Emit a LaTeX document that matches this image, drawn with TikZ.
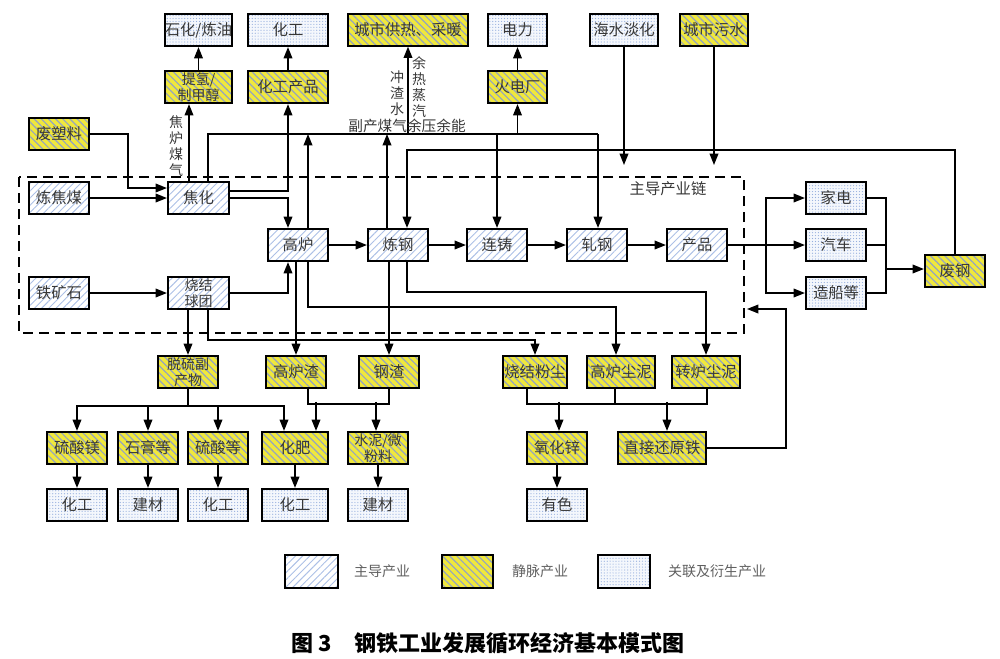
\documentclass[tikz,border=0pt]{standalone}
\usepackage{fontspec}
\setmainfont{Noto Sans CJK SC}
\usetikzlibrary{arrows.meta,calc,patterns.meta}

\definecolor{zyellow}{RGB}{240,232,60}
\definecolor{hatchblue}{RGB}{172,192,230}
\definecolor{hatchgrey}{RGB}{150,165,190}
\definecolor{dotblue}{RGB}{150,175,222}
\definecolor{txtgrey}{RGB}{55,55,55}

\tikzset{
  box/.style={draw, line width=1.6pt, minimum width=45pt, minimum height=24pt, inner sep=0pt,
    align=center, text=txtgrey, font=\fontsize{11.5}{13}\selectfont},
  zhudao/.style={box, pattern={Lines[angle=45,distance=3.8pt,line width=0.7pt]}, pattern color=hatchblue},
  jingmai/.style={box, preaction={fill=zyellow}, pattern={Lines[angle=-45,distance=3.8pt,line width=0.9pt]}, pattern color=hatchgrey},
  guanlian/.style={box, preaction={fill=dotblue!10}, pattern={Dots[radius=0.45pt,distance=2.2pt]}, pattern color=dotblue},
  bw/.style={minimum width=#1*0.75pt},
  twoline/.style={font=\fontsize{10.5}{12.3}\selectfont},
  arr/.style={-{Triangle[length=8.5pt,width=6.5pt]}, line width=1.1pt},
  ln/.style={line width=1.1pt},
  lbl/.style={font=\fontsize{10.5}{12}\selectfont, text=txtgrey, align=center, inner sep=0pt},
  dashbox/.style={line width=1.3pt, dash pattern=on 7.5pt off 4.5pt},
}

\begin{document}
\begin{tikzpicture}[x=0.75pt,y=0.75pt,yscale=-1,xscale=1]
\useasboundingbox (0,0) rectangle (1000,658);

% Top row
\node[guanlian,bw=67] (shlian) at (198.5,30) {石化/炼油};
\node[guanlian,bw=80] (hgtop) at (288,30) {化工};
\node[jingmai,bw=120] (gongre) at (408,30) {城市供热、采暖};
\node[guanlian,bw=59] (dianli) at (517.5,30) {电力};
\node[guanlian,bw=68] (haishui) at (624,30) {海水淡化};
\node[jingmai,bw=68] (wushui) at (714,30) {城市污水};

% Second row
\node[jingmai,bw=67,twoline] (tiqing) at (198.5,87) {提氢/\\制甲醇};
\node[jingmai,bw=80] (hgcp) at (288,87) {化工产品};
\node[jingmai,bw=59] (huodian) at (517.5,87) {火电厂};
\node[jingmai] (feisu) at (59,134) {废塑料};

% Main chain
\draw[dashbox] (19,177) rectangle (744,333);
\node[lbl,font=\fontsize{11.5}{13}\selectfont] (zdlabel) at (668,189) {主导产业链};
\node[zhudao] (lianjiao) at (59,198) {炼焦煤};
\node[zhudao,bw=61] (jiaohua) at (198.5,198) {焦化};
\node[zhudao] (tiekuang) at (59,293) {铁矿石};
\node[zhudao,bw=61,twoline] (shaojie) at (198.5,293) {烧结\\球团};
\node[zhudao] (gaolu) at (298,245) {高炉};
\node[zhudao] (liangang) at (398,245) {炼钢};
\node[zhudao] (lianzhu) at (497,245) {连铸};
\node[zhudao] (zhagang) at (597,245) {轧钢};
\node[zhudao] (chanpin) at (697,245) {产品};

% Products and scrap
\node[guanlian] (jiadian) at (836,198) {家电};
\node[guanlian] (qiche) at (836,245) {汽车};
\node[guanlian] (zaochuan) at (836,293) {造船等};
\node[jingmai] (feigang) at (955,271) {废钢};

% Bottom rows
\node[jingmai,twoline] (tuoliu) at (188,372) {脱硫副\\产物};
\node[jingmai] (gaoluzha) at (296,372) {高炉渣};
\node[jingmai] (gangzha) at (389,372) {钢渣};
\node[jingmai,bw=64] (fenchen) at (535,372) {烧结粉尘};
\node[jingmai,bw=68] (glcn) at (621,372) {高炉尘泥};
\node[jingmai,bw=68] (zlcn) at (706,372) {转炉尘泥};

\node[jingmai] (liusuanmei) at (77,448) {硫酸镁};
\node[jingmai] (shigao) at (148,448) {石膏等};
\node[jingmai] (liusuan) at (218,448) {硫酸等};
\node[jingmai,bw=66] (huafei) at (295,448) {化肥};
\node[jingmai,twoline] (shuini) at (378,448) {水泥/微\\粉料};
\node[jingmai] (yanghuaxin) at (557,448) {氧化锌};
\node[jingmai,bw=88] (zhijie) at (662,448) {直接还原铁};

\node[guanlian] (hg1) at (77,505) {化工};
\node[guanlian] (jc1) at (148,505) {建材};
\node[guanlian] (hg2) at (218,505) {化工};
\node[guanlian,bw=66] (hg3) at (295,505) {化工};
\node[guanlian] (jc2) at (378,505) {建材};
\node[guanlian] (youse) at (557,505) {有色};

% Coking inputs and outputs
\draw[arr] (feisu.east) -| ($(jiaohua.west)+(-39,-10)$) -- ($(jiaohua.west)+(0,-10)$);
\draw[arr] (lianjiao.east) -- (jiaohua.west);
\draw[arr] ($(jiaohua.north)+(-9.5,0)$) -- ($(tiqing.south)+(-9.5,0)$);
\node[lbl] (jlmq) at (176,146) {焦\\炉\\煤\\气};
\draw[arr] (tiqing.north) -- (shlian.south);
\draw[arr] (hgcp.north) -- (hgtop.south);
\draw[arr] (huodian.north) -- (dianli.south);
\draw[arr] ($(jiaohua.east)+(0,-7)$) -| (hgcp.south);
\draw[arr] (jiaohua.east) -| ($(gaolu.north)+(-10,0)$);
\draw[arr] (tiekuang.east) -- (shaojie.west);
\draw[arr] (shaojie.east) -| ($(gaolu.south)+(-10,0)$);

% Main chain arrows
\draw[arr] (gaolu) -- (liangang);
\draw[arr] (liangang) -- (lianzhu);
\draw[arr] (lianzhu) -- (zhagang);
\draw[arr] (zhagang) -- (chanpin);

% By-product gas bus
\coordinate (busA) at (208,134);
\coordinate (busB) at (598,134);
\draw[ln] (jiaohua.north -| busA) -- (busA) -- (busB);
\draw[arr] (busB) -- (zhagang.north -| busB);
\draw[arr] (lianzhu.north |- busA) -- (lianzhu.north);
\draw[arr] (gongre.south |- busA) -- (gongre.south);
\draw[arr] (huodian.south |- busA) -- (huodian.south);
\coordinate (gl1) at ($(gaolu.north)+(10,0)$);
\draw[arr] (gl1) -- (gl1 |- busA);
\coordinate (lg1) at ($(liangang.north)+(-11,0)$);
\draw[arr] (lg1) -- (lg1 |- busA);
\node[lbl] (czs) at (397,93) {冲\\渣\\水};
\node[lbl] (yrzq) at (419,87) {余\\热\\蒸\\汽};
\node[lbl,font=\fontsize{11}{12}\selectfont] (fcmq) at (407,126) {副产煤气余压余能};

% Water and scrap return
\coordinate (busC) at (407,150);
\draw[arr] (feigang.north) |- (busC) -- (liangang.north -| busC);
\coordinate (hsEnd) at (624,165);
\coordinate (wsEnd) at (714,165);
\draw[arr] (haishui.south) -- (hsEnd);
\draw[arr] (wushui.south) -- (wsEnd);

% Products to users
\coordinate (fork) at (766,245);
\draw[ln] (chanpin.east) -- (fork);
\draw[arr] (fork) -- (qiche.west);
\draw[arr] (fork) |- (jiadian.west);
\draw[arr] (fork) |- (zaochuan.west);
\coordinate (merge) at (886,269);
\draw[ln] (jiadian.east) -| (merge);
\draw[ln] (zaochuan.east) -| (merge);
\draw[ln] (qiche.east) -- (qiche.east -| merge);
\draw[arr] (merge) -- (merge -| feigang.west);

% Waste streams down
\draw[arr] (tuoliu.north |- shaojie.south) -- (tuoliu.north);
\coordinate (sj2) at ($(shaojie.south)+(9.5,0)$);
\draw[arr] (sj2) |- ($(fenchen.north)+(0,-15)$) -- (fenchen.north);
\draw[arr] (gaoluzha.north |- gaolu.south) -- (gaoluzha.north);
\coordinate (gl2) at ($(gaolu.south)+(10,0)$);
\draw[arr] (gl2) |- ($(glcn.north)+(-5,-48)$) -- ($(glcn.north)+(-5,0)$);
\draw[arr] (gangzha.north |- liangang.south) -- (gangzha.north);
\coordinate (lg2) at ($(liangang.south)+(9,0)$);
\draw[arr] (lg2) |- ($(zlcn.north)+(0,-63)$) -- (zlcn.north);

% Desulfurization products
\coordinate (tl) at ($(tuoliu.south)+(0,17)$);
\draw[ln] (tuoliu.south) -- (tl);
\draw[arr] (tl) -| (liusuanmei.north);
\draw[arr] (tl) -| (shigao.north);
\draw[arr] (tl) -| (liusuan.north);
\draw[arr] (tl) -| ($(huafei.north)+(-11,0)$);

% Slag
\draw[ln] ($(gaoluzha.south)+(12,0)$) |- ($(gangzha.south)+(0,15)$) -- (gangzha.south);
\draw[arr] ($(huafei.north)+(21,-29)$) -- ($(huafei.north)+(21,0)$);
\draw[arr] ($(shuini.north)+(-2,-29)$) -- ($(shuini.north)+(-2,0)$);

% Dust and sludge
\draw[ln] ($(fenchen.south)+(-8,0)$) |- ($(zlcn.south)+(1,15)$) -- ($(zlcn.south)+(1,0)$);
\draw[ln] ($(glcn.south)+(-6,0)$) -- ($(glcn.south)+(-6,15)$);
\draw[arr] ($(yanghuaxin.north)+(2,-29)$) -- ($(yanghuaxin.north)+(2,0)$);
\draw[arr] ($(zhijie.north)+(5,-29)$) -- ($(zhijie.north)+(5,0)$);
\coordinate (back) at (747,309);
\draw[arr] (zhijie.east) -| ($(back)+(39,0)$) -- (back);

% Final uses
\foreach \a/\b in {liusuanmei/hg1, shigao/jc1, liusuan/hg2, huafei/hg3, shuini/jc2, yanghuaxin/youse}
  \draw[arr] (\a) -- (\b);

% Legend
\node[zhudao,bw=53,minimum height=33*0.75pt] (lg-a) at (311.5,571.5) {};
\node[lbl,font=\fontsize{10.5}{12}\selectfont,text=txtgrey!80] (lt-a) at (382,571) {主导产业};
\node[jingmai,bw=51,minimum height=33*0.75pt] (lg-b) at (467.5,571.5) {};
\node[lbl,font=\fontsize{10.5}{12}\selectfont,text=txtgrey!80] (lt-b) at (540,571) {静脉产业};
\node[guanlian,bw=52,minimum height=33*0.75pt] (lg-c) at (624,571.5) {};
\node[lbl,font=\fontsize{10.5}{12}\selectfont,text=txtgrey!80] (lt-c) at (717,571) {关联及衍生产业};

% Caption
\node[font=\fontsize{16.5}{18}\selectfont\bfseries] (title) at (488,643) {图 3\quad 钢铁工业发展循环经济基本模式图};
\end{tikzpicture}
\end{document}
